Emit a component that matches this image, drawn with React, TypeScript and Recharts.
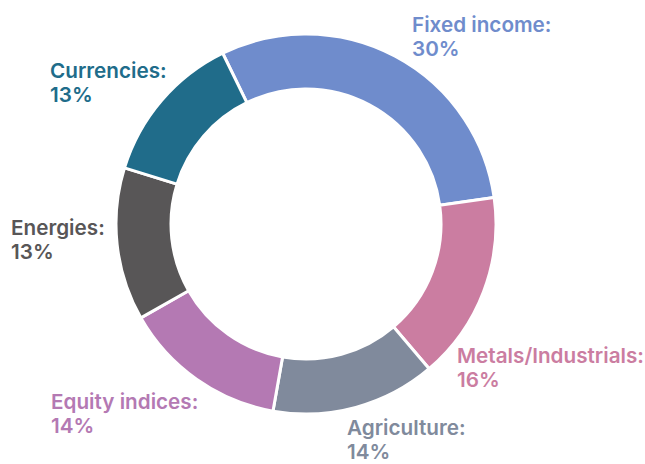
import React from 'react';
import { PieChart, Pie, Cell } from 'recharts';

const categories = ['Fixed income', 'Metals/Industrials', 'Agriculture', 'Equity indices', 'Energies', 'Currencies'];
const shares = [30, 16, 14, 14, 13, 13];
const colors = ['#6f8ccc', '#cb7da1', '#808a9c', '#b479b3', '#585657', '#206c8a'];

// where each label block starts (first line baseline), relative to the pie centre
const labelOffsets: [number, number][] = [
  [106, -192],
  [151, 139],
  [41, 211],
  [-255, 185],
  [-295, 11],
  [-256, -146],
];

const data = categories.map((name, i) => ({ name, value: shares[i] }));

const renderLabel = (props: any) => {
  const { cx, cy, index } = props;
  const [dx, dy] = labelOffsets[index];
  const x = cx + dx;
  const y = cy + dy;
  return (
    <text
      x={x}
      y={y}
      fill={colors[index]}
      fontFamily="Inter, 'Open Sans', sans-serif"
      fontSize={20.7}
      fontWeight={600}
      textAnchor="start"
    >
      <tspan x={x} y={y}>{categories[index]}:</tspan>
      <tspan x={x} y={y + 24}>{shares[index]}%</tspan>
    </text>
  );
};

const App: React.FC = () => {
  return (
    <div style={{ position: 'absolute', left: 0, top: 0, width: 645, height: 464, background: '#fff' }}>
      <PieChart width={645} height={464} margin={{ top: 0, right: 0, bottom: 0, left: 0 }}>
        <Pie
          data={data}
          dataKey="value"
          nameKey="name"
          cx={306}
          cy={224}
          innerRadius={135}
          outerRadius={190}
          startAngle={116}
          endAngle={-244}
          stroke="#fff"
          strokeWidth={3}
          label={renderLabel}
          labelLine={false}
          isAnimationActive={false}
        >
          {data.map((d, i) => (
            <Cell key={d.name} fill={colors[i]} />
          ))}
        </Pie>
      </PieChart>
    </div>
  );
};

export default App;
